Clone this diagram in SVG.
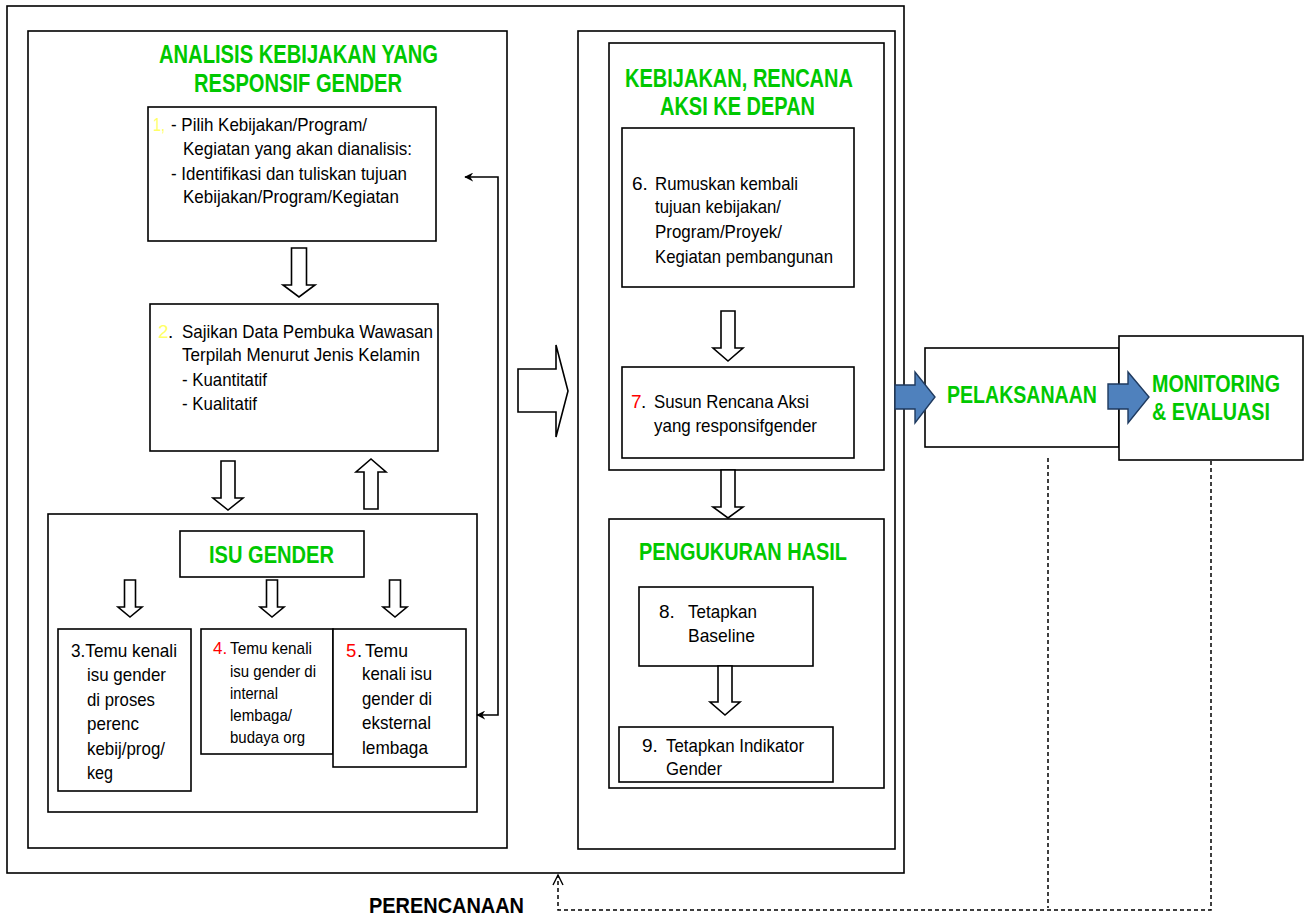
<svg xmlns="http://www.w3.org/2000/svg" width="1310" height="917" viewBox="0 0 1310 917">
<style>
.box{fill:#fff;stroke:#000;stroke-width:1.6}
.t{font-family:"Liberation Sans",Arial,sans-serif;fill:#000}
.b{font-size:19px}
.s{font-size:17px}
.m{font-size:18.5px}
.g{font-family:"Liberation Sans",Arial,sans-serif;font-weight:bold;fill:#00C800}
.k{font-family:"Liberation Sans",Arial,sans-serif;font-weight:bold;fill:#000}
.y{fill:#FFFF66}
.r{fill:#FF0000}
.ha{fill:#fff;stroke:#000;stroke-width:1.6;stroke-linejoin:miter}
.ba{fill:#4F81BD;stroke:#1F3A5F;stroke-width:1.4}
.ln{fill:none;stroke:#000;stroke-width:1.6}
.dl{fill:none;stroke:#000;stroke-width:1.5;stroke-dasharray:4 3}
</style>
<defs>
<marker id="ah" viewBox="0 0 12 12" refX="11" refY="6" markerWidth="9" markerHeight="9" markerUnits="userSpaceOnUse" orient="auto-start-reverse">
<path d="M0,0 L12,6 L0,12 L4,6 Z" fill="#000"/>
</marker>
<marker id="oh" viewBox="0 0 12 12" refX="11" refY="6" markerWidth="12" markerHeight="12" markerUnits="userSpaceOnUse" orient="auto">
<path d="M1,1 L11,6 L1,11" fill="none" stroke="#000" stroke-width="1.4"/>
</marker>
</defs>

<g id="planning-frame">
<rect class="box" x="7" y="6" width="897" height="867" fill="none"/>
</g>

<g id="analysis-panel">
<rect class="box" x="28" y="31" width="479" height="817"/>
<text class="g" font-size="25" x="159" y="63" textLength="279" lengthAdjust="spacingAndGlyphs">ANALISIS KEBIJAKAN YANG</text>
<text class="g" font-size="25" x="194" y="92" textLength="208" lengthAdjust="spacingAndGlyphs">RESPONSIF GENDER</text>
</g>

<g id="step1">
<rect class="box" x="148" y="107" width="288" height="134"/>
<text class="t b y" x="153" y="131" textLength="12" lengthAdjust="spacingAndGlyphs">1,</text>
<text class="t b" x="171" y="131" textLength="196" lengthAdjust="spacingAndGlyphs">- Pilih Kebijakan/Program/</text>
<text class="t b" x="183" y="155" textLength="229" lengthAdjust="spacingAndGlyphs">Kegiatan yang akan dianalisis:</text>
<text class="t b" x="171" y="180" textLength="236" lengthAdjust="spacingAndGlyphs">- Identifikasi dan tuliskan tujuan</text>
<text class="t b" x="183" y="203" textLength="216" lengthAdjust="spacingAndGlyphs">Kebijakan/Program/Kegiatan</text>
</g>

<g id="step2">
<rect class="box" x="150" y="304" width="288" height="147"/>
<text class="t b y" x="158" y="338">2</text>
<text class="t b" x="168" y="338">.</text>
<text class="t b" x="182" y="338" textLength="251" lengthAdjust="spacingAndGlyphs">Sajikan Data Pembuka Wawasan</text>
<text class="t b" x="182" y="361" textLength="238" lengthAdjust="spacingAndGlyphs">Terpilah Menurut Jenis Kelamin</text>
<text class="t b" x="182" y="386" textLength="85" lengthAdjust="spacingAndGlyphs">- Kuantitatif</text>
<text class="t b" x="182" y="410" textLength="75" lengthAdjust="spacingAndGlyphs">- Kualitatif</text>
</g>

<g id="isu-panel">
<rect class="box" x="48" y="514" width="429" height="298"/>
</g>

<g id="isu-gender">
<rect class="box" x="180" y="531" width="184" height="46"/>
<text class="g" font-size="24" x="209" y="563" textLength="125" lengthAdjust="spacingAndGlyphs">ISU GENDER</text>
</g>

<g id="step3">
<rect class="box" x="58" y="629" width="133" height="162"/>
<text class="t m" x="71" y="657" textLength="106" lengthAdjust="spacingAndGlyphs">3.Temu kenali</text>
<text class="t m" x="87" y="681" textLength="79" lengthAdjust="spacingAndGlyphs">isu gender</text>
<text class="t m" x="87" y="706" textLength="68" lengthAdjust="spacingAndGlyphs">di proses</text>
<text class="t m" x="87" y="730" textLength="52" lengthAdjust="spacingAndGlyphs">perenc</text>
<text class="t m" x="87" y="755" textLength="78" lengthAdjust="spacingAndGlyphs">kebij/prog/</text>
<text class="t m" x="87" y="779" textLength="26" lengthAdjust="spacingAndGlyphs">keg</text>
</g>

<g id="step4">
<rect class="box" x="201" y="629" width="132" height="125"/>
<text class="t s r" x="213" y="654">4.</text>
<text class="t s" x="230" y="654" textLength="82" lengthAdjust="spacingAndGlyphs">Temu kenali</text>
<text class="t s" x="230" y="677" textLength="86" lengthAdjust="spacingAndGlyphs">isu gender di</text>
<text class="t s" x="230" y="699" textLength="48" lengthAdjust="spacingAndGlyphs">internal</text>
<text class="t s" x="230" y="721" textLength="62" lengthAdjust="spacingAndGlyphs">lembaga/</text>
<text class="t s" x="230" y="743" textLength="75" lengthAdjust="spacingAndGlyphs">budaya org</text>
</g>

<g id="step5">
<rect class="box" x="333" y="629" width="133" height="138"/>
<text class="t m r" x="346" y="657">5</text>
<text class="t m" x="357" y="657">.</text>
<text class="t m" x="365" y="657" textLength="43" lengthAdjust="spacingAndGlyphs">Temu</text>
<text class="t m" x="362" y="680" textLength="70" lengthAdjust="spacingAndGlyphs">kenali isu</text>
<text class="t m" x="362" y="705" textLength="70" lengthAdjust="spacingAndGlyphs">gender di</text>
<text class="t m" x="362" y="729" textLength="69" lengthAdjust="spacingAndGlyphs">eksternal</text>
<text class="t m" x="362" y="754" textLength="66" lengthAdjust="spacingAndGlyphs">lembaga</text>
</g>

<g id="policy-frame">
<rect class="box" x="578" y="31" width="317" height="818"/>
</g>

<g id="policy-panel">
<rect class="box" x="609" y="43" width="275" height="427"/>
<text class="g" font-size="25" x="625" y="87" textLength="228" lengthAdjust="spacingAndGlyphs">KEBIJAKAN, RENCANA</text>
<text class="g" font-size="25" x="660" y="115" textLength="155" lengthAdjust="spacingAndGlyphs">AKSI KE DEPAN</text>
</g>

<g id="step6">
<rect class="box" x="622" y="128" width="232" height="159"/>
<text class="t b" x="632" y="190">6.</text>
<text class="t b" x="655" y="190" textLength="143" lengthAdjust="spacingAndGlyphs">Rumuskan kembali</text>
<text class="t b" x="655" y="213" textLength="126" lengthAdjust="spacingAndGlyphs">tujuan kebijakan/</text>
<text class="t b" x="655" y="238" textLength="127" lengthAdjust="spacingAndGlyphs">Program/Proyek/</text>
<text class="t b" x="655" y="263" textLength="178" lengthAdjust="spacingAndGlyphs">Kegiatan pembangunan</text>
</g>

<g id="step7">
<rect class="box" x="622" y="367" width="232" height="91"/>
<text class="t b r" x="631" y="408">7</text>
<text class="t b" x="641" y="408">.</text>
<text class="t b" x="654" y="408" textLength="155" lengthAdjust="spacingAndGlyphs">Susun Rencana Aksi</text>
<text class="t b" x="654" y="432" textLength="163" lengthAdjust="spacingAndGlyphs">yang responsifgender</text>
</g>

<g id="measurement-panel">
<rect class="box" x="609" y="519" width="275" height="269"/>
<text class="g" font-size="23" x="639" y="560" textLength="208" lengthAdjust="spacingAndGlyphs">PENGUKURAN HASIL</text>
</g>

<g id="step8">
<rect class="box" x="639" y="587" width="174" height="79"/>
<text class="t b" x="659" y="618">8.</text>
<text class="t b" x="688" y="618" textLength="69" lengthAdjust="spacingAndGlyphs">Tetapkan</text>
<text class="t b" x="688" y="642" textLength="67" lengthAdjust="spacingAndGlyphs">Baseline</text>
</g>

<g id="step9">
<rect class="box" x="619" y="727" width="214" height="55"/>
<text class="t b" x="642" y="752">9.</text>
<text class="t b" x="666" y="752" textLength="138" lengthAdjust="spacingAndGlyphs">Tetapkan Indikator</text>
<text class="t b" x="666" y="775" textLength="56" lengthAdjust="spacingAndGlyphs">Gender</text>
</g>

<g id="pelaksanaan">
<rect class="box" x="925" y="348" width="194" height="99"/>
<text class="g" font-size="24" x="947" y="403" textLength="150" lengthAdjust="spacingAndGlyphs">PELAKSANAAN</text>
</g>

<g id="monitoring">
<rect class="box" x="1119" y="336" width="184" height="124"/>
<text class="g" font-size="24" x="1152" y="392" textLength="128" lengthAdjust="spacingAndGlyphs">MONITORING</text>
<text class="g" font-size="24" x="1152" y="420" textLength="118" lengthAdjust="spacingAndGlyphs">&amp; EVALUASI</text>
</g>

<g id="perencanaan-label">
<text class="k" font-size="22" x="369" y="913" textLength="155" lengthAdjust="spacingAndGlyphs">PERENCANAAN</text>
</g>

<g id="connectors">
<path class="ha" d="M291.5,248 H306.5 V285 H315 L299,297 L283,285 H291.5 Z"/>
<path class="ha" d="M221,461 H235 V498 H243 L228,510 L213,498 H221 Z"/>
<path class="ha" d="M364,509 H378 V472 H386 L371,459 L356,472 H364 Z"/>
<path class="ha" d="M124.5,580 H135.5 V607 H142 L130,617 L118,607 H124.5 Z"/>
<path class="ha" d="M266.5,580 H277.5 V607 H284 L272,617 L260,607 H266.5 Z"/>
<path class="ha" d="M389.5,580 H400.5 V607 H407 L395,617 L383,607 H389.5 Z"/>
<path class="ha" d="M518,369 H556 V345 L568,391 L556,437 V412 H518 Z"/>
<path class="ha" d="M721,311 H735 V348 H743 L728,361 L713,348 H721 Z"/>
<path class="ha" d="M721,470 H735 V507 H743 L728,518 L713,507 H721 Z"/>
<path class="ha" d="M718,666 H732 V702 H740 L725,715 L710,702 H718 Z"/>
<path class="ln" d="M477,715 H498 V177 H465" marker-start="url(#ah)" marker-end="url(#ah)"/>
<path class="ba" d="M895,385 H915 V372 L935,397 L915,423 V409 H895 Z"/>
<path class="ba" d="M1108,384 H1128 V372 L1149,397 L1128,423 V409 H1108 Z"/>
<path class="dl" d="M1048,458 V908"/>
<path class="dl" d="M1211,461 V910 H558 V875" marker-end="url(#oh)"/>
</g>
</svg>
